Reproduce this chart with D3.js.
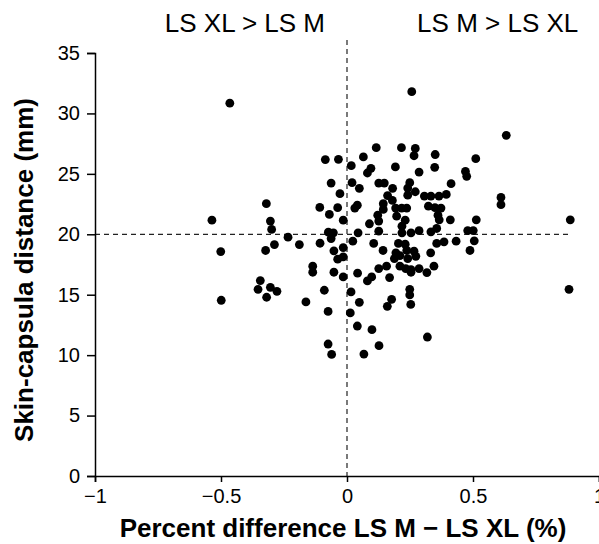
<!DOCTYPE html>
<html>
<head>
<meta charset="utf-8">
<script src="https://cdn.jsdelivr.net/npm/d3@7/dist/d3.min.js"></script>
<style>
  html, body { margin: 0; padding: 0; background: #fff; }
  svg { display: block; }
  text { font-family: "Liberation Sans", Arial, sans-serif; fill: #000; }
</style>
</head>
<body>
<svg id="chart" width="599" height="544"></svg>
<script>
// Percent difference LS M − LS XL (%)
const pctDiff = [
  -0.465, -0.086, -0.034, -0.063, -0.028, -0.32, -0.108, -0.037, -0.07, -0.015, -0.536, -0.304,
  0.257, 0.116, 0.216, 0.271, 0.266, 0.35, 0.065, 0.511, 0.017, 0.192, 0.348, 0.095, 0.081,
  0.286, 0.47, 0.475, 0.02, 0.126, 0.148, 0.049, 0.181, 0.249, 0.241, 0.413, 0.271, 0.241,
  0.161, 0.307, 0.333, 0.365, 0.394, 0.18, 0.041, 0.031, 0.144, 0.144, 0.193, 0.217, 0.237,
  0.323, 0.349, 0.373, 0.122, 0.197, 0.361, 0.366, 0.126, 0.231, 0.41, 0.513, 0.089,
  0.632, 0.611, 0.611, 0.886,
  -0.299, -0.074, -0.054, -0.063, -0.234, -0.288, -0.189, -0.107, -0.501, -0.323, -0.052,
  -0.015, -0.037, -0.015, -0.136, -0.136, -0.052, -0.015, -0.344, -0.353, -0.304, -0.278,
  -0.319, -0.499, -0.163, -0.09, -0.075, -0.075, -0.061,
  0.126, 0.044, 0.218, 0.218, 0.254, 0.286, 0.333, 0.356, 0.479, 0.501, 0.023, 0.106, 0.204,
  0.231, 0.356, 0.385, 0.433, 0.505, 0.488, 0.143, 0.194, 0.237, 0.266, 0.332, 0.188, 0.21,
  0.241, 0.273, 0.21, 0.233, 0.254, 0.254, 0.286, 0.345, 0.317, 0.157, 0.126, 0.042, 0.098,
  0.081, 0.169, 0.249, 0.249, 0.016, 0.253, 0.177, 0.16, 0.049, 0.013, 0.041, 0.099, 0.319,
  0.127, 0.067, 0.881
];
// Skin-capsula distance (mm)
const distance = [
  30.85, 26.18, 26.2, 24.24, 23.36, 22.53, 22.22, 22.2, 21.64, 21.17, 21.17, 21.09,
  31.8, 27.17, 27.17, 27.1, 26.5, 26.6, 26.4, 26.26, 25.68, 25.57, 25.54, 25.46, 25.07,
  25.15, 25.2, 24.8, 24.27, 24.24, 24.24, 23.8, 23.8, 24.27, 23.82, 24.19, 23.52, 23.24,
  23.2, 23.16, 23.16, 23.16, 23.3, 22.8, 22.41, 22.17, 22.53, 22.06, 22.17, 22.17, 22.17,
  22.33, 22.2, 22.17, 21.58, 21.5, 21.58, 21.2, 21.09, 21.17, 21.2, 21.2, 20.87,
  28.19, 23.05, 22.45, 21.2,
  20.4, 20.17, 20.12, 19.65, 19.76, 19.15, 19.15, 19.26, 18.57, 18.66, 18.63,
  18.9, 17.94, 18.13, 17.36, 16.86, 16.86, 16.47, 16.17, 15.45, 15.61, 15.28,
  14.79, 14.54, 14.4, 15.37, 13.62, 10.92, 10.06,
  20.26, 20.12, 20.67, 20.12, 20.12, 20.3, 20.2, 20.48, 20.31, 20.31, 19.43, 19.24, 19.24,
  19.18, 19.24, 19.38, 19.43, 19.46, 18.66, 18.66, 18.47, 18.66, 18.6, 18.47, 17.99, 18.24,
  17.99, 18.18, 17.36, 17.16, 17.08, 16.86, 17.16, 17.36, 16.83, 17.36, 17.16, 16.78, 16.47,
  16.14, 16.42, 15.45, 14.98, 15.23, 14.2, 14.62, 14.04, 14.37, 13.49, 12.41, 12.11, 11.5,
  10.78, 10.09, 15.45
];
const xTicks = [-1, -0.5, 0, 0.5, 1];
const xTickLabels = ["\u22121", "\u22120.5", "0", "0.5", "1"];
const yTicks = [0, 5, 10, 15, 20, 25, 30, 35];
const yTickLabels = ["0", "5", "10", "15", "20", "25", "30", "35"];
const refX = 0;
const refY = 20;
const quadrantLabels = ["LS XL > LS M", "LS M > LS XL"];
const quadrantCenters = [-0.405, 0.598];
const xTitle = "Percent difference LS M \u2212 LS XL (%)";
const yTitle = "Skin-capsula distance (mm)";

const svg = d3.select("#chart");
const x = d3.scaleLinear().domain([-1, 1]).range([95, 599]);
const y = d3.scaleLinear().domain([0, 35]).range([476, 53]);

// reference dashed lines
svg.append("line")
  .attr("x1", x(refX)).attr("x2", x(refX))
  .attr("y1", 40).attr("y2", y(0))
  .attr("stroke", "#222").attr("stroke-width", 1.2).attr("stroke-dasharray", "5,4");
svg.append("line")
  .attr("x1", x(-1)).attr("x2", x(0.88))
  .attr("y1", y(refY)).attr("y2", y(refY))
  .attr("stroke", "#222").attr("stroke-width", 1.2).attr("stroke-dasharray", "5,4");

// axes
const xAxis = svg.append("g")
  .attr("transform", `translate(0,${y(0)})`)
  .call(d3.axisBottom(x).tickValues(xTicks)
    .tickFormat((d, i) => xTickLabels[i]).tickSize(6).tickPadding(7));
const yAxis = svg.append("g")
  .attr("transform", `translate(${x(-1)},0)`)
  .call(d3.axisLeft(y).tickValues(yTicks)
    .tickFormat((d, i) => yTickLabels[i]).tickSize(8).tickPadding(7));
[xAxis, yAxis].forEach(g => {
  g.selectAll("path, line").attr("stroke", "#000").attr("stroke-width", 1.5);
  g.selectAll("text").attr("font-size", 20).attr("font-family", '"Liberation Sans", Arial, sans-serif').attr("fill", "#000");
});

// points
svg.append("g").selectAll("circle")
  .data(pctDiff.map((d, i) => [d, distance[i]]))
  .join("circle")
  .attr("cx", d => x(d[0]))
  .attr("cy", d => y(d[1]))
  .attr("r", 4.4)
  .attr("fill", "#000");

// quadrant labels
svg.selectAll("text.q")
  .data(quadrantLabels)
  .join("text")
  .attr("class", "q")
  .attr("x", (d, i) => x(quadrantCenters[i]))
  .attr("y", 32)
  .attr("text-anchor", "middle")
  .attr("font-size", 26)
  .text(d => d);

// axis titles
svg.append("text")
  .attr("x", 343).attr("y", 537)
  .attr("text-anchor", "middle")
  .attr("font-size", 26).attr("font-weight", "bold")
  .text(xTitle);
svg.append("text")
  .attr("transform", "translate(33,270) rotate(-90)")
  .attr("text-anchor", "middle")
  .attr("font-size", 26).attr("font-weight", "bold")
  .text(yTitle);
</script>
</body>
</html>
